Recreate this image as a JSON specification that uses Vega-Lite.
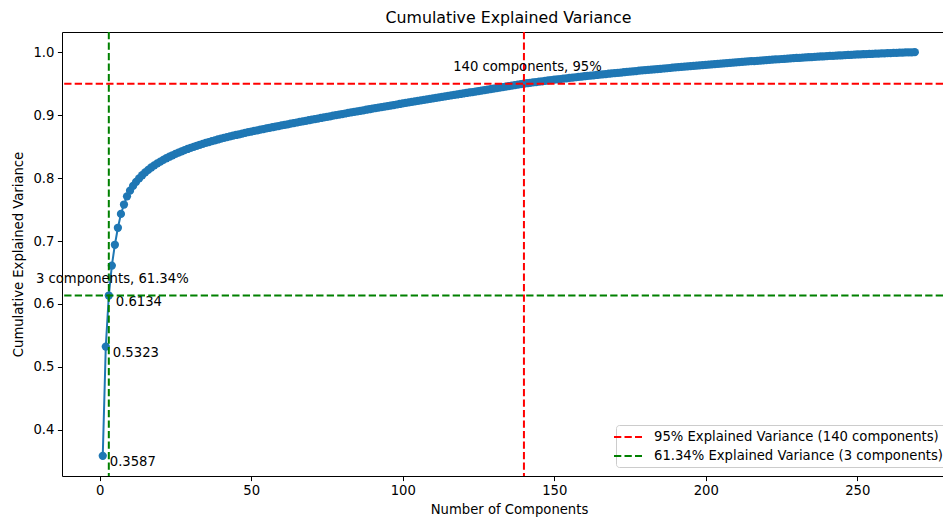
{
"$schema": "https://vega.github.io/schema/vega-lite/v6.json",
"width": 881, "height": 444,
"autosize": {"type": "none"},
"padding": {"left": 62, "top": 32, "right": 0, "bottom": 43},
"background": "white",
"title": {"text": "Cumulative Explained Variance", "font": "DejaVu Sans", "fontSize": 15.8, "fontWeight": "normal", "color": "black", "offset": 4, "dx": 6, "anchor": "middle"},
"config": {
 "view": {"stroke": "black", "strokeWidth": 1},
 "axis": {"grid": false, "domain": false, "tickColor": "black", "tickSize": 4.6, "tickWidth": 1, "labelFont": "DejaVu Sans", "labelFontSize": 13.2, "labelColor": "black", "titleFont": "DejaVu Sans", "titleFontSize": 13.2, "titleFontWeight": "normal", "titleColor": "black", "labelPadding": 3.5, "labelFlush": false, "labelOverlap": false},
 "legend": {"orient": "none", "legendX": 554, "legendY": 393, "title": null, "symbolType": "M-2,0H2", "symbolSize": 196, "symbolStrokeWidth": 2, "symbolDash": [7.3, 3.2], "labelFont": "DejaVu Sans", "labelFontSize": 13.2, "labelColor": "black", "labelLimit": 500, "labelOffset": 18, "padding": 4, "rowPadding": 4, "strokeColor": "#cccccc", "fillColor": "white", "cornerRadius": 3}
},
"datasets": {
 "pts": [
{"n":1,"v":0.3587},{"n":2,"v":0.5323},{"n":3,"v":0.6134},{"n":4,"v":0.661},{"n":5,"v":0.694},{"n":6,"v":0.721},{"n":7,"v":0.743},{"n":8,"v":0.758},{"n":9,"v":0.771},{"n":10,"v":0.780},
{"n":11,"v":0.7875},{"n":12,"v":0.7940},{"n":13,"v":0.7995},{"n":14,"v":0.8045},{"n":15,"v":0.8090},{"n":16,"v":0.8130},{"n":17,"v":0.8168},{"n":18,"v":0.8202},{"n":19,"v":0.8233},{"n":20,"v":0.8262},
{"n":21,"v":0.8289},{"n":22,"v":0.8315},{"n":23,"v":0.8339},{"n":24,"v":0.8362},{"n":25,"v":0.8384},{"n":26,"v":0.8405},{"n":27,"v":0.8425},{"n":28,"v":0.8444},{"n":29,"v":0.8462},{"n":30,"v":0.8480},
{"n":31,"v":0.8497},{"n":32,"v":0.8513},{"n":33,"v":0.8529},{"n":34,"v":0.8544},{"n":35,"v":0.8559},{"n":36,"v":0.8573},{"n":37,"v":0.8587},{"n":38,"v":0.8600},{"n":39,"v":0.8613},{"n":40,"v":0.8626},
{"n":41,"v":0.8638},{"n":42,"v":0.8650},{"n":43,"v":0.8662},{"n":44,"v":0.8674},{"n":45,"v":0.8685},{"n":46,"v":0.8696},{"n":47,"v":0.8707},{"n":48,"v":0.8718},{"n":49,"v":0.8729},{"n":50,"v":0.8739},
{"n":51,"v":0.8749},{"n":52,"v":0.8759},{"n":53,"v":0.8769},{"n":54,"v":0.8779},{"n":55,"v":0.8789},{"n":56,"v":0.8799},{"n":57,"v":0.8808},{"n":58,"v":0.8818},{"n":59,"v":0.8827},{"n":60,"v":0.8837},
{"n":61,"v":0.8846},{"n":62,"v":0.8855},{"n":63,"v":0.8865},{"n":64,"v":0.8874},{"n":65,"v":0.8883},{"n":66,"v":0.8892},{"n":67,"v":0.8901},{"n":68,"v":0.8910},{"n":69,"v":0.8919},{"n":70,"v":0.8928},
{"n":71,"v":0.8937},{"n":72,"v":0.8946},{"n":73,"v":0.8955},{"n":74,"v":0.8964},{"n":75,"v":0.8973},{"n":76,"v":0.8982},{"n":77,"v":0.8991},{"n":78,"v":0.9000},{"n":79,"v":0.9009},{"n":80,"v":0.9018},
{"n":81,"v":0.9026},{"n":82,"v":0.9035},{"n":83,"v":0.9043},{"n":84,"v":0.9052},{"n":85,"v":0.9060},{"n":86,"v":0.9069},{"n":87,"v":0.9077},{"n":88,"v":0.9086},{"n":89,"v":0.9094},{"n":90,"v":0.9103},
{"n":91,"v":0.9111},{"n":92,"v":0.9119},{"n":93,"v":0.9128},{"n":94,"v":0.9136},{"n":95,"v":0.9144},{"n":96,"v":0.9153},{"n":97,"v":0.9161},{"n":98,"v":0.9169},{"n":99,"v":0.9177},{"n":100,"v":0.9186},
{"n":101,"v":0.9194},{"n":102,"v":0.9202},{"n":103,"v":0.9210},{"n":104,"v":0.9218},{"n":105,"v":0.9226},{"n":106,"v":0.9234},{"n":107,"v":0.9242},{"n":108,"v":0.9250},{"n":109,"v":0.9258},{"n":110,"v":0.9266},
{"n":111,"v":0.9274},{"n":112,"v":0.9282},{"n":113,"v":0.9289},{"n":114,"v":0.9297},{"n":115,"v":0.9305},{"n":116,"v":0.9313},{"n":117,"v":0.9321},{"n":118,"v":0.9328},{"n":119,"v":0.9336},{"n":120,"v":0.9344},
{"n":121,"v":0.9352},{"n":122,"v":0.9360},{"n":123,"v":0.9367},{"n":124,"v":0.9375},{"n":125,"v":0.9383},{"n":126,"v":0.9391},{"n":127,"v":0.9399},{"n":128,"v":0.9406},{"n":129,"v":0.9414},{"n":130,"v":0.9422},
{"n":131,"v":0.9430},{"n":132,"v":0.9437},{"n":133,"v":0.9445},{"n":134,"v":0.9453},{"n":135,"v":0.9461},{"n":136,"v":0.9468},{"n":137,"v":0.9476},{"n":138,"v":0.9484},{"n":139,"v":0.9493},{"n":140,"v":0.9501},
{"n":141,"v":0.9507},{"n":142,"v":0.9513},{"n":143,"v":0.9520},{"n":144,"v":0.9526},{"n":145,"v":0.9532},{"n":146,"v":0.9538},{"n":147,"v":0.9544},{"n":148,"v":0.9551},{"n":149,"v":0.9557},{"n":150,"v":0.9563},
{"n":151,"v":0.9568},{"n":152,"v":0.9574},{"n":153,"v":0.9579},{"n":154,"v":0.9585},{"n":155,"v":0.9591},{"n":156,"v":0.9596},{"n":157,"v":0.9602},{"n":158,"v":0.9607},{"n":159,"v":0.9613},{"n":160,"v":0.9618},
{"n":161,"v":0.9623},{"n":162,"v":0.9628},{"n":163,"v":0.9633},{"n":164,"v":0.9638},{"n":165,"v":0.9643},{"n":166,"v":0.9648},{"n":167,"v":0.9653},{"n":168,"v":0.9658},{"n":169,"v":0.9663},{"n":170,"v":0.9668},
{"n":171,"v":0.9673},{"n":172,"v":0.9677},{"n":173,"v":0.9682},{"n":174,"v":0.9687},{"n":175,"v":0.9692},{"n":176,"v":0.9696},{"n":177,"v":0.9701},{"n":178,"v":0.9706},{"n":179,"v":0.9710},{"n":180,"v":0.9715},
{"n":181,"v":0.9719},{"n":182,"v":0.9724},{"n":183,"v":0.9728},{"n":184,"v":0.9732},{"n":185,"v":0.9737},{"n":186,"v":0.9741},{"n":187,"v":0.9745},{"n":188,"v":0.9749},{"n":189,"v":0.9754},{"n":190,"v":0.9758},
{"n":191,"v":0.9762},{"n":192,"v":0.9766},{"n":193,"v":0.9770},{"n":194,"v":0.9774},{"n":195,"v":0.9778},{"n":196,"v":0.9782},{"n":197,"v":0.9786},{"n":198,"v":0.9790},{"n":199,"v":0.9794},{"n":200,"v":0.9798},
{"n":201,"v":0.9802},{"n":202,"v":0.9806},{"n":203,"v":0.9810},{"n":204,"v":0.9814},{"n":205,"v":0.9818},{"n":206,"v":0.9822},{"n":207,"v":0.9826},{"n":208,"v":0.9830},{"n":209,"v":0.9834},{"n":210,"v":0.9838},
{"n":211,"v":0.9842},{"n":212,"v":0.9845},{"n":213,"v":0.9849},{"n":214,"v":0.9853},{"n":215,"v":0.9857},{"n":216,"v":0.9860},{"n":217,"v":0.9864},{"n":218,"v":0.9868},{"n":219,"v":0.9871},{"n":220,"v":0.9875},
{"n":221,"v":0.9878},{"n":222,"v":0.9882},{"n":223,"v":0.9885},{"n":224,"v":0.9888},{"n":225,"v":0.9892},{"n":226,"v":0.9895},{"n":227,"v":0.9898},{"n":228,"v":0.9901},{"n":229,"v":0.9905},{"n":230,"v":0.9908},
{"n":231,"v":0.9911},{"n":232,"v":0.9914},{"n":233,"v":0.9917},{"n":234,"v":0.9920},{"n":235,"v":0.9923},{"n":236,"v":0.9926},{"n":237,"v":0.9929},{"n":238,"v":0.9932},{"n":239,"v":0.9935},{"n":240,"v":0.9938},
{"n":241,"v":0.9941},{"n":242,"v":0.9943},{"n":243,"v":0.9946},{"n":244,"v":0.9948},{"n":245,"v":0.9951},{"n":246,"v":0.9954},{"n":247,"v":0.9956},{"n":248,"v":0.9959},{"n":249,"v":0.9961},{"n":250,"v":0.9964},
{"n":251,"v":0.9966},{"n":252,"v":0.9968},{"n":253,"v":0.9970},{"n":254,"v":0.9972},{"n":255,"v":0.9975},{"n":256,"v":0.9977},{"n":257,"v":0.9979},{"n":258,"v":0.9981},{"n":259,"v":0.9983},{"n":260,"v":0.9985},
{"n":261,"v":0.9987},{"n":262,"v":0.9989},{"n":263,"v":0.9990},{"n":264,"v":0.9992},{"n":265,"v":0.9994},{"n":266,"v":0.9996},{"n":267,"v":0.9997},{"n":268,"v":0.9999},{"n":269,"v":1.0}
 ],
 "vr": [{"n":140,"label":"95% Explained Variance (140 components)"},{"n":3,"label":"61.34% Explained Variance (3 components)"}],
 "hr": [{"v":0.95,"label":"95% Explained Variance (140 components)"},{"v":0.6134,"label":"61.34% Explained Variance (3 components)"}],
 "notes": [{"n":140,"v":0.97,"t":"140 components, 95%"},{"n":3,"v":0.6334,"t":"3 components, 61.34%"}]
},
"layer": [
 {"data": {"name": "pts"},
  "mark": {"type": "line", "color": "#1f77b4", "strokeWidth": 2, "point": {"filled": true, "size": 68, "color": "#1f77b4", "opacity": 1}},
  "encoding": {
   "x": {"field": "n", "type": "quantitative", "title": "Number of Components", "scale": {"domain": [-12.45, 278.3], "nice": false, "zero": false}, "axis": {"values": [0,50,100,150,200,250], "format": "d", "titlePadding": 7, "titleX": 447}},
   "y": {"field": "v", "type": "quantitative", "title": "Cumulative Explained Variance", "scale": {"domain": [0.3266, 1.0321], "nice": false, "zero": false}, "axis": {"values": [0.4,0.5,0.6,0.7,0.8,0.9,1.0], "format": ".1f", "titlePadding": 7}}
  }},
 {"data": {"name": "pts"}, "transform": [{"filter": "datum.n <= 3"}],
  "mark": {"type": "text", "align": "left", "baseline": "middle", "dx": 7, "dy": 6, "font": "DejaVu Sans", "fontSize": 13.2, "color": "black"},
  "encoding": {
   "x": {"field": "n", "type": "quantitative", "title": "Number of Components"},
   "y": {"field": "v", "type": "quantitative", "title": "Cumulative Explained Variance"},
   "text": {"field": "v", "type": "quantitative", "format": ".4f"}
  }},
 {"data": {"name": "vr"},
  "mark": {"type": "rule", "strokeWidth": 2, "strokeDash": [7.3, 3.2]},
  "encoding": {
   "x": {"field": "n", "type": "quantitative", "title": "Number of Components"},
   "color": {"field": "label", "type": "nominal", "scale": {"domain": ["95% Explained Variance (140 components)", "61.34% Explained Variance (3 components)"], "range": ["#ff0000", "#008000"]}}
  }},
 {"data": {"name": "hr"},
  "mark": {"type": "rule", "strokeWidth": 2, "strokeDash": [7.3, 3.2]},
  "encoding": {
   "y": {"field": "v", "type": "quantitative", "title": "Cumulative Explained Variance"},
   "color": {"field": "label", "type": "nominal", "scale": {"domain": ["95% Explained Variance (140 components)", "61.34% Explained Variance (3 components)"], "range": ["#ff0000", "#008000"]}}
  }},
 {"data": {"name": "notes"},
  "mark": {"type": "text", "align": "center", "baseline": "alphabetic", "dx": 3.5, "font": "DejaVu Sans", "fontSize": 13.2, "color": "black"},
  "encoding": {
   "x": {"field": "n", "type": "quantitative", "title": "Number of Components"},
   "y": {"field": "v", "type": "quantitative", "title": "Cumulative Explained Variance"},
   "text": {"field": "t", "type": "nominal"}
  }}
]
}
